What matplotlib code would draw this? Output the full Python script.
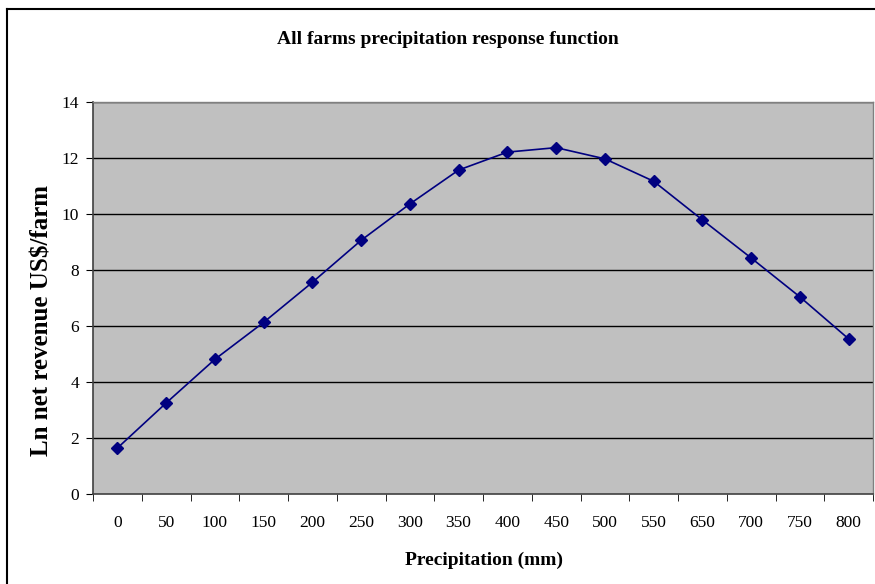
import numpy as np
import matplotlib
matplotlib.use("Agg")
import matplotlib.pyplot as plt
from matplotlib.lines import Line2D

# data
precip = ["0", "50", "100", "150", "200", "250", "300", "350",
          "400", "450", "500", "550", "650", "700", "750", "800"]
ln_rev = [1.64, 3.25, 4.81, 6.13, 7.56, 9.06, 10.36, 11.57,
          12.21, 12.37, 11.97, 11.17, 9.79, 8.43, 7.04, 5.54]
yticks = list(range(0, 16, 2))

plt.rcParams['font.family'] = ['Liberation Serif', 'DejaVu Serif']

fig = plt.figure(figsize=(8.75, 5.84), dpi=100)
ax = fig.add_axes([93/875, 1-494/584, 780/875, 392/584])

# excel style frame around the chart
fig.add_artist(Line2D([7/875, 7/875], [0, 1-9/584], color='black', lw=1.5))
fig.add_artist(Line2D([7/875, 1], [1-9/584, 1-9/584], color='black', lw=1.5))

x = np.arange(len(precip))
ax.set_facecolor('#C0C0C0')
for y in yticks[1:]:
    ax.axhline(y, color='black', lw=1, zorder=1)
ax.plot(x, ln_rev, color='#000080', lw=1.2, marker='D', markersize=6,
        markerfacecolor='#000080', markeredgecolor='#000080', zorder=3)

ax.set_xlim(-0.5, len(precip) - 0.5)
ax.set_ylim(0, 14)
ax.set_yticks(yticks)
ax.set_xticks(x)
ax.set_xticklabels(precip, fontsize=12.5)
ax.set_xticks(np.arange(-0.5, len(precip)), minor=True)
ax.tick_params(axis='x', which='major', length=0, pad=15)
ax.tick_params(axis='x', which='minor', length=5, color='black', direction='out')
ax.tick_params(axis='y', length=5, color='black', direction='out', labelsize=12.5, pad=5)

for s in ['top', 'right']:
    ax.spines[s].set_color('#808080')
    ax.spines[s].set_linewidth(1)
for s in ['left', 'bottom']:
    ax.spines[s].set_color('#404040')
    ax.spines[s].set_linewidth(1.2)

fig.text(448/875, 1-40/584, 'All farms precipitation response function',
         ha='center', va='center', fontsize=14, fontweight='bold')
fig.text(42/875, 1-320/584, 'Ln net revenue US$/farm', rotation=90,
         ha='center', va='center', fontsize=18, fontweight='bold')
fig.text(484/875, 1-560/584, 'Precipitation (mm)',
         ha='center', va='center', fontsize=14, fontweight='bold')

fig.savefig('out.png', dpi=100)
